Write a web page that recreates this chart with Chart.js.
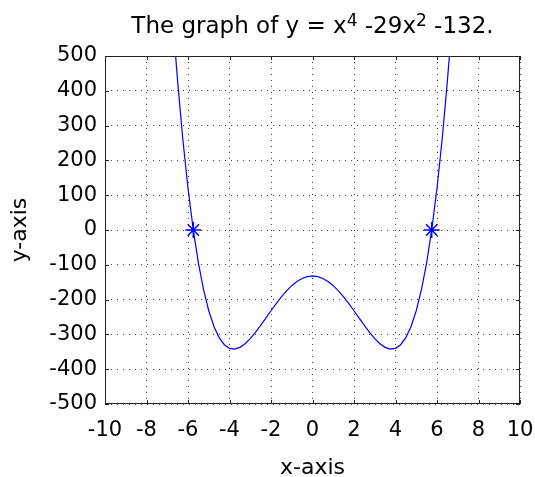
<!DOCTYPE html>
<html>
<head>
<meta charset="utf-8">
<script src="https://cdn.jsdelivr.net/npm/chart.js@4/dist/chart.umd.min.js"></script>
<style>
  html, body { margin: 0; padding: 0; background: #fff; }
  #wrap { width: 535px; height: 477px; }
</style>
</head>
<body>
<div id="wrap"><canvas id="chart" width="535" height="477"></canvas></div>
<script>
// Curve samples for y = x^4 - 29x^2 - 132
const curveX = [-6.6, -6.5, -6.25, -6, -5.75, -5.5, -5.25, -5, -4.75, -4.5, -4.25, -4, -3.75, -3.5, -3.25, -3,
  -2.75, -2.5, -2.25, -2, -1.75, -1.5, -1.25, -1, -0.75, -0.5, -0.25, 0,
  0.25, 0.5, 0.75, 1, 1.25, 1.5, 1.75, 2, 2.25, 2.5, 2.75, 3, 3.25, 3.5, 3.75, 4,
  4.25, 4.5, 4.75, 5, 5.25, 5.5, 5.75, 6, 6.25, 6.5, 6.6];
const curveY = [502.3, 427.8, 261.1, 120, 2.3, -94.2, -171.6, -232, -277.2, -309.2, -329.6, -340, -342.1, -337.2, -326.7, -312,
  -294.1, -274.2, -253.2, -232, -211.4, -192.2, -174.9, -160, -148.0, -139.2, -133.8, -132,
  -133.8, -139.2, -148.0, -160, -174.9, -192.2, -211.4, -232, -253.2, -274.2, -294.1, -312, -326.7, -337.2, -342.1, -340,
  -329.6, -309.2, -277.2, -232, -171.6, -94.2, 2.3, 120, 261.1, 427.8, 502.3];

// Zero crossings marked with asterisks
const rootX = [-5.745, 5.745];
const rootY = [0, 0];

const xTicks = [-10, -8, -6, -4, -2, 0, 2, 4, 6, 8, 10];
const yTicks = [-500, -400, -300, -200, -100, 0, 100, 200, 300, 400, 500];

const titleParts = [
  { text: 'The graph of y = x', sup: false },
  { text: '4', sup: true },
  { text: ' -29x', sup: false },
  { text: '2', sup: true },
  { text: ' -132.', sup: false }
];

const FONT = "'DejaVu Sans', sans-serif";
const INK = '#000';

// Title with raised exponents, plus the MATLAB-style box with inward ticks
const framePlugin = {
  id: 'frame',
  afterDraw(chart) {
    const { ctx, chartArea: a, scales } = chart;
    ctx.save();

    // box
    ctx.strokeStyle = '#222';
    ctx.lineWidth = 1;
    ctx.setLineDash([]);
    ctx.strokeRect(a.left + 0.5, a.top + 0.5, a.right - a.left - 1, a.bottom - a.top - 1);

    // inward ticks on all four sides
    const tl = 4;
    ctx.beginPath();
    xTicks.forEach(v => {
      const px = Math.round(scales.x.getPixelForValue(v)) + 0.5;
      ctx.moveTo(px, a.bottom); ctx.lineTo(px, a.bottom - tl);
      ctx.moveTo(px, a.top); ctx.lineTo(px, a.top + tl);
    });
    yTicks.forEach(v => {
      const py = Math.round(scales.y.getPixelForValue(v)) + 0.5;
      ctx.moveTo(a.left, py); ctx.lineTo(a.left + tl, py);
      ctx.moveTo(a.right, py); ctx.lineTo(a.right - tl, py);
    });
    ctx.stroke();

    // title
    const mainFont = '23px ' + FONT;
    const supFont = '17px ' + FONT;
    let total = 0;
    titleParts.forEach(p => {
      ctx.font = p.sup ? supFont : mainFont;
      p.w = ctx.measureText(p.text).width;
      total += p.w;
    });
    let x = (a.left + a.right) / 2 - total / 2;
    const base = 33;
    ctx.fillStyle = INK;
    ctx.textBaseline = 'alphabetic';
    ctx.textAlign = 'left';
    titleParts.forEach(p => {
      ctx.font = p.sup ? supFont : mainFont;
      ctx.fillText(p.text, x, p.sup ? base - 7 : base);
      x += p.w;
    });
    ctx.restore();
  }
};

const gridOpts = {
  color: '#444',
  lineWidth: 1,
  drawTicks: false
};

new Chart(document.getElementById('chart'), {
  type: 'scatter',
  data: {
    datasets: [
      {
        data: curveX.map((x, i) => ({ x, y: curveY[i] })),
        showLine: true,
        borderColor: '#0000ff',
        borderWidth: 1.2,
        pointRadius: 0,
        tension: 0,
        fill: false
      },
      {
        data: rootX.map((x, i) => ({ x, y: rootY[i] })),
        showLine: false,
        pointStyle: 'star',
        pointRadius: 8,
        pointBorderColor: '#0000ff',
        pointBackgroundColor: '#0000ff',
        pointBorderWidth: 1.5
      }
    ]
  },
  options: {
    responsive: false,
    animation: false,
    events: [],
    layout: { padding: { top: 56, right: 15, left: 0, bottom: 0 } },
    plugins: { legend: { display: false }, tooltip: { enabled: false } },
    scales: {
      x: {
        type: 'linear',
        min: -10,
        max: 10,
        afterBuildTicks: s => { s.ticks = xTicks.map(v => ({ value: v })); },
        afterFit: s => { s.height = 73; s.paddingLeft = 0; s.paddingRight = 0; },
        grid: gridOpts,
        border: { display: false, dash: [1, 5] },
        ticks: { color: INK, font: { family: FONT, size: 21 }, padding: 14, maxRotation: 0, autoSkip: false },
        title: { display: true, text: 'x-axis', color: INK, font: { family: FONT, size: 22, lineHeight: 0.8 }, padding: { top: 0, bottom: 0 } }
      },
      y: {
        type: 'linear',
        min: -500,
        max: 500,
        afterBuildTicks: s => { s.ticks = yTicks.map(v => ({ value: v })); },
        afterFit: s => { s.width = 105; s.paddingTop = 0; s.paddingBottom = 0; },
        grid: gridOpts,
        border: { display: false, dash: [1, 5] },
        ticks: { color: INK, font: { family: FONT, size: 21 }, padding: 8, autoSkip: false },
        title: { display: true, text: 'y-axis', color: INK, font: { family: FONT, size: 22, lineHeight: 1 }, padding: { top: 9, bottom: 0 } }
      }
    }
  },
  plugins: [framePlugin]
});
</script>
</body>
</html>
